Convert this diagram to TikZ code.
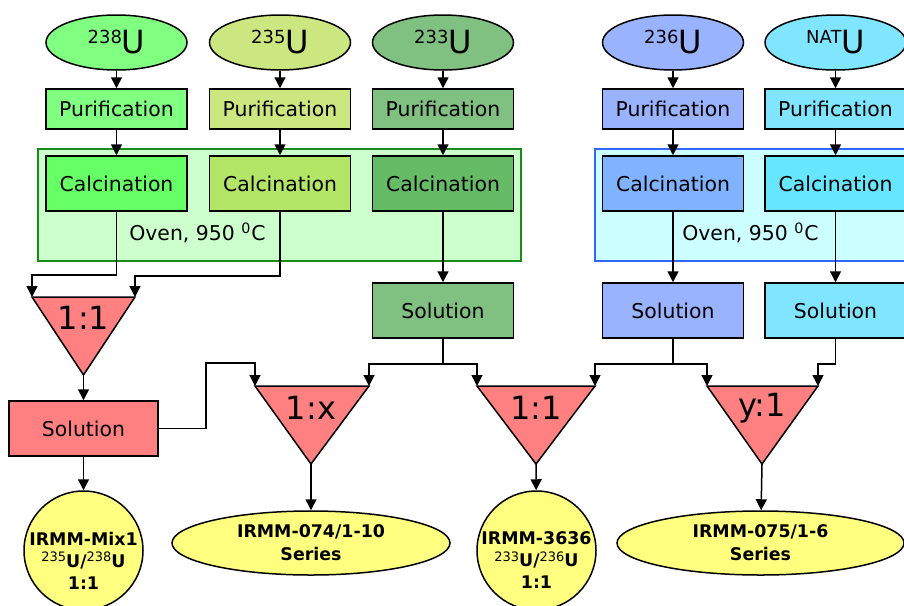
\documentclass[tikz,border=0pt]{standalone}
\usepackage{fontspec}
\setmainfont{DejaVu Sans}
\usetikzlibrary{shapes.geometric,arrows.meta}

\definecolor{gA}{HTML}{80FF80}
\definecolor{gAc}{HTML}{66FF66}
\definecolor{gB}{HTML}{CCE680}
\definecolor{gBc}{HTML}{B3E666}
\definecolor{gC}{HTML}{80C080}
\definecolor{gCc}{HTML}{66BB66}
\definecolor{bA}{HTML}{99B3FF}
\definecolor{bAc}{HTML}{80B3FF}
\definecolor{bB}{HTML}{80E6FF}
\definecolor{bBc}{HTML}{66E6FF}
\definecolor{ovenG}{HTML}{CCFFCC}
\definecolor{ovenGd}{HTML}{1A8A1A}
\definecolor{ovenB}{HTML}{CCFFFF}
\definecolor{ovenBd}{HTML}{3366FF}
\definecolor{mixred}{HTML}{FF8080}
\definecolor{yel}{HTML}{FFFF80}

\newcommand\iso[1]{{\fontsize{9}{10}\selectfont\raisebox{5pt}{#1}}{\fontsize{16}{18}\selectfont U}}
\newcommand\isob[1]{{\mdseries\fontsize{6.5}{8}\selectfont\raisebox{2.8pt}{#1}}U}

\begin{document}
\begin{tikzpicture}[x=0.5pt,y=-0.5pt,
  src/.style={ellipse,draw,line width=0.75pt,minimum width=70.5pt,minimum height=27.5pt,inner sep=0pt},
  stepbox/.style={draw,line width=0.75pt,minimum width=70.5pt,inner sep=0pt,font=\fontsize{10.2}{12}\selectfont},
  arr/.style={-{Triangle[length=5.5pt,width=5.5pt]},line width=0.75pt},
  ratio/.style={font=\fontsize{16}{18}\selectfont},
  prod/.style={draw,fill=yel,line width=0.75pt,align=center,inner sep=0pt,font=\bfseries\fontsize{8.7}{11.5}\selectfont}]
\useasboundingbox (0,0) rectangle (904,605);

% ovens
\filldraw[fill=ovenG,draw=ovenGd,line width=0.75pt] (38,149) rectangle (521,261);
\filldraw[fill=ovenB,draw=ovenBd,line width=0.75pt] (595,149) rectangle (914,261);
\node[font=\fontsize{10.2}{12}\selectfont] (ovenL) at (197.5,233) {Oven, 950 \textsuperscript{0}C};
\node[font=\fontsize{10.2}{12}\selectfont] (ovenR) at (750.5,233) {Oven, 950 \textsuperscript{0}C};

% isotopes
\node[src,fill=gA] (u238) at (116.5,42.5) {\iso{238}};
\node[src,fill=gB] (u235) at (280,42.5) {\iso{235}};
\node[src,fill=gC] (u233) at (443,42.5) {\iso{233}};
\node[src,fill=bA] (u236) at (673,42.5) {\iso{236}};
\node[src,fill=bB] (unat) at (835.5,42.5) {\iso{NAT}};

\node[stepbox,fill=gA,minimum height=20pt] (pur238) at (116.5,109) {Purification};
\node[stepbox,fill=gB,minimum height=20pt] (pur235) at (280,109) {Purification};
\node[stepbox,fill=gC,minimum height=20pt] (pur233) at (443,109) {Purification};
\node[stepbox,fill=bA,minimum height=20pt] (pur236) at (673,109) {Purification};
\node[stepbox,fill=bB,minimum height=20pt] (purnat) at (835.5,109) {Purification};

\node[stepbox,fill=gAc,minimum height=27.5pt] (cal238) at (116.5,183.5) {Calcination};
\node[stepbox,fill=gBc,minimum height=27.5pt] (cal235) at (280,183.5) {Calcination};
\node[stepbox,fill=gCc,minimum height=27.5pt] (cal233) at (443,183.5) {Calcination};
\node[stepbox,fill=bAc,minimum height=27.5pt] (cal236) at (673,183.5) {Calcination};
\node[stepbox,fill=bBc,minimum height=27.5pt] (calnat) at (835.5,183.5) {Calcination};

\node[stepbox,fill=gC,minimum height=27.5pt] (sol233) at (443,310.5) {Solution};
\node[stepbox,fill=bA,minimum height=27.5pt] (sol236) at (673,310.5) {Solution};
\node[stepbox,fill=bB,minimum height=27.5pt] (solnat) at (835.5,310.5) {Solution};

% mixing triangles
\coordinate (t1l) at (32,297); \coordinate (t1r) at (135,297); \coordinate (t1b) at (83.5,375);
\coordinate (t2l) at (255,386); \coordinate (t2r) at (369,386); \coordinate (t2b) at (311,464);
\coordinate (t3l) at (477,386); \coordinate (t3r) at (595,386); \coordinate (t3b) at (536,464);
\coordinate (t4l) at (707,386); \coordinate (t4r) at (818,386); \coordinate (t4b) at (762,464);
\filldraw[fill=mixred,line width=0.75pt] (t1l) -- (t1r) -- (t1b) -- cycle;
\filldraw[fill=mixred,line width=0.75pt] (t2l) -- (t2r) -- (t2b) -- cycle;
\filldraw[fill=mixred,line width=0.75pt] (t3l) -- (t3r) -- (t3b) -- cycle;
\filldraw[fill=mixred,line width=0.75pt] (t4l) -- (t4r) -- (t4b) -- cycle;
\node[ratio] (mixA) at (83.5,318) {1:1};
\node[ratio] (mixB) at (311,408) {1:x};
\node[ratio] (mixC) at (536,408) {1:1};
\node[ratio] (mixD) at (762,408) {y:1};

\node[stepbox,fill=mixred,minimum width=74.5pt,minimum height=27.5pt] (solmix) at (83.5,428.5) {Solution};

% products
\node[prod,circle,minimum size=59.5pt,
  label={[yshift=-5pt,align=center,font=\bfseries\fontsize{8.7}{11}\selectfont]center:IRMM-Mix1\\\isob{235}/\isob{238}\\1:1}] (irmmmix) at (83.5,550.5) {};
\node[prod,ellipse,minimum width=139pt,minimum height=32pt] (irmm074) at (311,543) {IRMM-074/1-10\\Series};
\node[prod,circle,minimum size=59.5pt,
  label={[yshift=-5pt,align=center,font=\bfseries\fontsize{8.7}{11}\selectfont]center:IRMM-3636\\\isob{233}/\isob{236}\\1:1}] (irmm3636) at (536.5,550.5) {};
\node[prod,ellipse,minimum width=143.5pt,minimum height=32pt] (irmm075) at (760.5,543) {IRMM-075/1-6\\Series};

% connectors
\draw[arr] (u238) -- (pur238);
\draw[arr] (u235) -- (pur235);
\draw[arr] (u233) -- (pur233);
\draw[arr] (u236) -- (pur236);
\draw[arr] (unat) -- (purnat);
\draw[arr] (pur238) -- (cal238);
\draw[arr] (pur235) -- (cal235);
\draw[arr] (pur233) -- (cal233);
\draw[arr] (pur236) -- (cal236);
\draw[arr] (purnat) -- (calnat);
\draw[arr] (cal233) -- (sol233);
\draw[arr] (cal236) -- (sol236);
\draw[arr] (calnat) -- (solnat);

\draw[arr] (cal238.south) -- ++(0,63) -| (t1l);
\draw[arr] (cal235.south) -- ++(0,64) -| (t1r);
\draw[arr] (t1b) -- (solmix);
\draw[arr] (solmix) -- (irmmmix);
\draw[arr] (solmix.east) -| (206,363) -| (t2l);
\draw[arr] (sol233.south) -- ++(0,25) -| (t2r);
\draw[arr] (sol233.south) -- ++(0,25) -| (t3l);
\draw[arr] (sol236.south) -- ++(0,25) -| (t3r);
\draw[arr] (sol236.south) -- ++(0,25) -| (t4l);
\draw[arr] (solnat.south) -- ++(0,25) -| (t4r);
\draw[arr] (t2b) -- (irmm074);
\draw[arr] (t3b) -- (irmm3636);
\draw[arr] (t4b) -- (irmm075);
\end{tikzpicture}
\end{document}
